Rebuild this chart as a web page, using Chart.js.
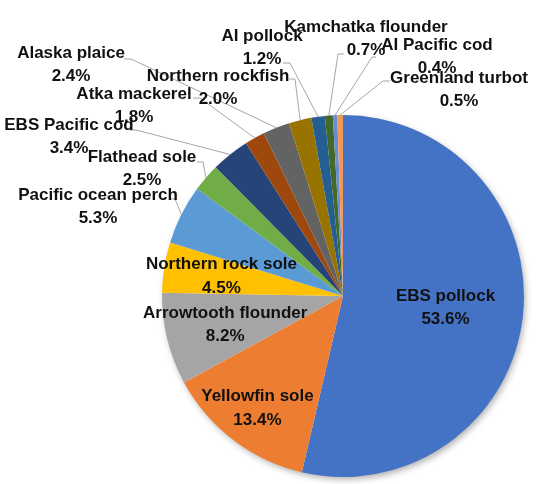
<!DOCTYPE html>
<html>
<head>
<meta charset="utf-8">
<script src="https://cdn.jsdelivr.net/npm/chart.js@4.4.1/dist/chart.umd.min.js"></script>
<style>
  html, body { margin: 0; background: #fff; }
  #wrap { width: 539px; height: 484px; }
</style>
</head>
<body>
<div id="wrap"><canvas id="pie" width="539" height="484"></canvas></div>
<script>
/* ===== Datos ===== */
const species = ['EBS pollock','Yellowfin sole','Arrowtooth flounder','Northern rock sole','Pacific ocean perch',
  'Flathead sole','EBS Pacific cod','Atka mackerel','Alaska plaice','Northern rockfish','AI pollock',
  'Kamchatka flounder','AI Pacific cod','Greenland turbot'];
const shares = [53.6, 13.4, 8.2, 4.5, 5.3, 2.5, 3.4, 1.8, 2.4, 2.0, 1.2, 0.7, 0.4, 0.5];
const colors = ['#4472C4','#ED7D31','#A5A5A5','#FFC000','#5B9BD5','#70AD47','#264478','#9E480E',
  '#636363','#997300','#255E91','#43682B','#698ED0','#F1975A'];

/* ===== Layout de etiquetas ===== */
// dentro del pastel: fracción del radio sobre el ángulo medio
const insideR = [0.57, 0.78, 0.67, 0.68];
// fuera: centro del nombre y arranque de la línea guía (codo)
const textPos = [null, null, null, null, [98,195], [142,157], [69,125], [134,94], [71,53], [218,76],
  [262,36], [366,27], [437,45], [459,78]];
const leaders = [null, null, null, null,
  [[170,199],[175,199]], [[197,162],[203,162]], [[129,130],[136,130]], [[193,98],[200,98]],
  [[124,59],[131,59]], [[289,79],[295,79]], [[283,63],[290,63]], [[344,54],[338,54]],
  [[376,57],[372,57]], [[390,81],[383,81]]];
const labelFont = 'bold 17px "Liberation Sans", Arial, sans-serif';
const lineGap = 23.5;

/* ===== Plugin: sombra + etiquetas ===== */
const sliceLabels = {
  id: 'sliceLabels',
  beforeDatasetsDraw(chart){
    const arc = chart.getDatasetMeta(0).data[0];
    if (!arc) return;
    const ctx = chart.ctx;
    ctx.save();
    ctx.shadowColor = 'rgba(0,0,0,0.35)';
    ctx.shadowBlur = 7;
    ctx.shadowOffsetX = 2;
    ctx.shadowOffsetY = 3;
    ctx.fillStyle = '#fff';
    ctx.beginPath();
    ctx.arc(arc.x, arc.y, arc.outerRadius - 1, 0, Math.PI*2);
    ctx.fill();
    ctx.restore();
  },
  afterDatasetsDraw(chart){
    const ctx = chart.ctx;
    const arcs = chart.getDatasetMeta(0).data;
    ctx.save();
    ctx.font = labelFont;
    ctx.textAlign = 'center';
    ctx.textBaseline = 'middle';
    arcs.forEach((arc, i) => {
      const { x, y, startAngle, endAngle, outerRadius } =
        arc.getProps(['x','y','startAngle','endAngle','outerRadius'], true);
      const mid = (startAngle + endAngle) / 2;
      const pct = shares[i].toFixed(1) + '%';
      ctx.fillStyle = '#111';
      if (insideR[i]) {
        const lx = x + Math.cos(mid) * outerRadius * insideR[i];
        const ly = y + Math.sin(mid) * outerRadius * insideR[i];
        ctx.fillText(species[i], lx, ly - lineGap/2);
        ctx.fillText(pct, lx, ly + lineGap/2);
        return;
      }
      const [p0, p1] = leaders[i];
      ctx.strokeStyle = '#a6a6a6';
      ctx.lineWidth = 1;
      ctx.beginPath();
      ctx.moveTo(p0[0], p0[1]);
      ctx.lineTo(p1[0], p1[1]);
      ctx.lineTo(x + Math.cos(mid) * outerRadius, y + Math.sin(mid) * outerRadius);
      ctx.stroke();
      const [tx, ty] = textPos[i];
      ctx.fillText(species[i], tx, ty);
      ctx.fillText(pct, tx, ty + lineGap);
    });
    ctx.restore();
  }
};

/* ===== Chart ===== */
new Chart(document.getElementById('pie'), {
  type: 'pie',
  data: {
    labels: species,
    datasets: [{ data: shares, backgroundColor: colors, borderWidth: 0 }]
  },
  options: {
    responsive: false,
    animation: false,
    devicePixelRatio: 1,
    layout: { padding: { left: 162, right: 15, top: 115, bottom: 7 } },
    plugins: { legend: { display: false }, tooltip: { enabled: false } }
  },
  plugins: [sliceLabels]
});
</script>
</body>
</html>
